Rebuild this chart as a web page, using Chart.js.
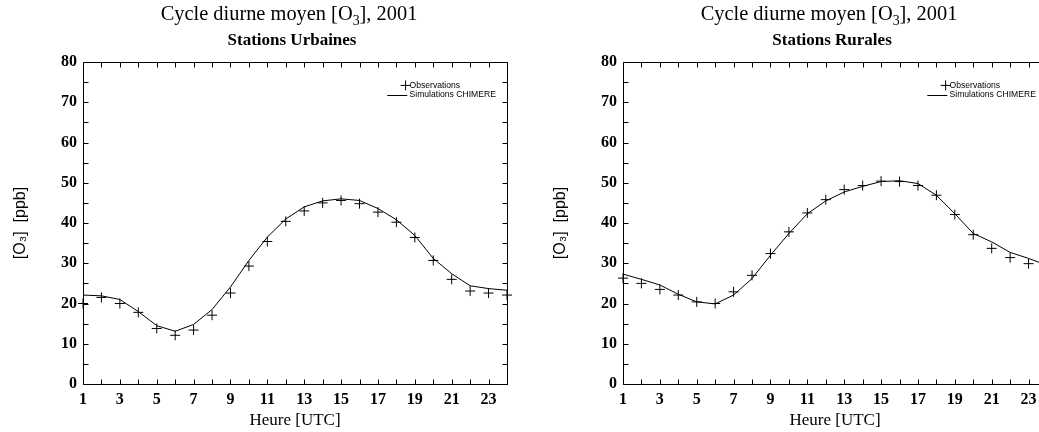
<!DOCTYPE html>
<html>
<head>
<meta charset="utf-8">
<script src="https://cdn.jsdelivr.net/npm/chart.js@4.4.1/dist/chart.umd.min.js"></script>
<style>
  html, body { margin: 0; padding: 0; background: #fff; overflow: hidden; width: 1039px; height: 432px; }
  .panel { position: absolute; top: 0; }
</style>
</head>
<body>
<canvas id="urban" class="panel" width="530" height="432" style="left:0px"></canvas>
<canvas id="rural" class="panel" width="530" height="432" style="left:540px"></canvas>
<script>
// hours of the day (UTC)
const hours = [1, 2, 3, 4, 5, 6, 7, 8, 9, 10, 11, 12, 13, 14, 15, 16, 17, 18, 19, 20, 21, 22, 23, 24];
const xTickLabels = [1, 3, 5, 7, 9, 11, 13, 15, 17, 19, 21, 23];
const yTickLabels = [0, 10, 20, 30, 40, 50, 60, 70, 80];
const yMinorTicks = [0, 5, 10, 15, 20, 25, 30, 35, 40, 45, 50, 55, 60, 65, 70, 75, 80];

// Stations urbaines
const urbanObs = [20.0, 21.5, 20.0, 17.8, 13.8, 12.1, 13.4, 17.1, 22.6, 29.3, 35.4, 40.4, 43.0, 45.0, 45.6, 44.8, 42.7, 40.2, 36.4, 30.7, 26.0, 23.1, 22.6, 22.1];
const urbanSim = [22.1, 21.9, 21.0, 18.0, 14.5, 13.1, 14.8, 18.5, 24.1, 30.7, 36.5, 41.0, 44.0, 45.5, 46.0, 45.6, 43.6, 40.8, 36.9, 31.2, 27.4, 24.4, 23.7, 23.3];

// Stations rurales
const ruralObs = [26.3, 25.0, 23.5, 22.1, 20.4, 20.0, 22.9, 27.0, 32.4, 37.8, 42.5, 45.8, 48.3, 49.3, 50.4, 50.3, 49.3, 46.9, 42.1, 37.1, 33.7, 31.4, 29.9, 28.8];
const ruralSim = [27.3, 26.0, 24.6, 22.3, 20.4, 19.9, 22.1, 26.2, 32.0, 37.4, 42.3, 45.5, 47.7, 49.1, 50.3, 50.5, 49.8, 46.9, 42.3, 37.4, 35.3, 32.7, 31.2, 29.5];

const titleParts = [{ t: 'Cycle diurne moyen [O' }, { t: '3', sub: true }, { t: '], 2001' }];
const serif = 'Liberation Serif, Times New Roman, serif';
const sans = 'Liberation Sans, Arial, sans-serif';

function drawRich(ctx, parts, cx, cy, size, weight) {
  const fontOf = p => `${weight} ${p.sub ? size * 0.68 : size}px ${serif}`;
  let w = 0;
  parts.forEach(p => { ctx.font = fontOf(p); w += ctx.measureText(p.t).width; });
  let x = cx - w / 2;
  parts.forEach(p => {
    ctx.font = fontOf(p);
    ctx.fillText(p.t, x, cy + (p.sub ? size * 0.3 : 0));
    x += ctx.measureText(p.t).width;
  });
}

// frame, inward ticks, titles and legend (gnuplot look)
const gnuplotLook = {
  id: 'gnuplotLook',
  afterDraw(chart, args, opts) {
    const { ctx, chartArea: a, scales: { x, y } } = chart;
    ctx.save();
    ctx.strokeStyle = '#000';
    ctx.fillStyle = '#000';
    ctx.lineWidth = 1;
    const L = Math.round(a.left) + 0.5, R = Math.round(a.right) + 0.5;
    const T = Math.round(a.top) + 0.5, B = Math.round(a.bottom) + 0.5;
    ctx.beginPath();
    ctx.rect(L, T, R - L, B - T);
    hours.forEach(h => {
      const px = Math.round(x.getPixelForValue(h)) + 0.5;
      ctx.moveTo(px, B); ctx.lineTo(px, B - 5);
      ctx.moveTo(px, T); ctx.lineTo(px, T + 5);
    });
    yMinorTicks.forEach(v => {
      const py = Math.round(y.getPixelForValue(v)) + 0.5;
      ctx.moveTo(L, py); ctx.lineTo(L + 5, py);
      ctx.moveTo(R, py); ctx.lineTo(R - 5, py);
    });
    ctx.stroke();

    // titles
    ctx.textBaseline = 'middle';
    ctx.textAlign = 'left';
    drawRich(ctx, titleParts, 289, 15, 20.4, 'normal');
    ctx.textAlign = 'center';
    ctx.font = `bold 17px ${serif}`;
    ctx.fillText(opts.subtitle, 292, 41);

    // legend
    const ds = chart.data.datasets;
    const lx = a.right - 97.5;
    const ly1 = a.top + 23.4, ly2 = a.top + 32.7;
    ctx.font = `8.6px ${sans}`;
    ctx.textAlign = 'left';
    ctx.fillText(ds[0].label, lx, ly1);
    ctx.fillText(ds[1].label, lx, ly2);
    ctx.beginPath();
    const cx = a.right - 101.4;
    ctx.moveTo(cx - 5, ly1); ctx.lineTo(cx + 5, ly1);
    ctx.moveTo(cx, ly1 - 5); ctx.lineTo(cx, ly1 + 5);
    ctx.moveTo(a.right - 119.7, Math.round(ly2) + 0.5); ctx.lineTo(a.right - 99.7, Math.round(ly2) + 0.5);
    ctx.stroke();
    ctx.restore();
  }
};

function makeChart(id, subtitle, obs, sim) {
  const tickFont = { family: serif, size: 16, weight: 'bold' };
  return new Chart(document.getElementById(id), {
    type: 'line',
    data: {
      datasets: [
        {
          label: 'Observations',
          data: hours.map((h, i) => ({ x: h, y: obs[i] })),
          showLine: false,
          pointStyle: 'cross',
          pointRadius: 5,
          pointBorderWidth: 1,
          borderColor: '#000',
          pointBorderColor: '#000',
          clip: false
        },
        {
          label: 'Simulations CHIMERE',
          data: hours.map((h, i) => ({ x: h, y: sim[i] })),
          borderColor: '#000',
          borderWidth: 1,
          pointRadius: 0,
          tension: 0,
          fill: false
        }
      ]
    },
    options: {
      responsive: false,
      animation: false,
      devicePixelRatio: 1,
      layout: { padding: { top: 62, right: 23, left: 0, bottom: 0 } },
      plugins: {
        legend: { display: false },
        tooltip: { enabled: false },
        gnuplotLook: { subtitle }
      },
      scales: {
        x: {
          type: 'linear',
          min: 1,
          max: 24,
          afterFit: s => { s.height = 48; },
          afterBuildTicks: s => { s.ticks = xTickLabels.map(v => ({ value: v })); },
          grid: { display: false, drawTicks: false },
          border: { display: false },
          ticks: { font: tickFont, color: '#000', padding: 6, maxRotation: 0, autoSkip: false },
          title: { display: true, text: 'Heure [UTC]', color: '#000', font: { family: serif, size: 17 }, padding: { top: 0, bottom: 1 } }
        },
        y: {
          min: 0,
          max: 80,
          afterFit: s => { s.width = 83; },
          afterBuildTicks: s => { s.ticks = yTickLabels.map(v => ({ value: v })); },
          grid: { display: false, drawTicks: false },
          border: { display: false },
          ticks: { font: tickFont, color: '#000', padding: 6 },
          title: { display: true, text: '[O₃]  [ppb]', color: '#000', font: { family: sans, size: 16 }, padding: { top: 11, bottom: 0 } }
        }
      }
    },
    plugins: [gnuplotLook]
  });
}

makeChart('urban', 'Stations Urbaines', urbanObs, urbanSim);
makeChart('rural', 'Stations Rurales', ruralObs, ruralSim);
</script>
</body>
</html>
